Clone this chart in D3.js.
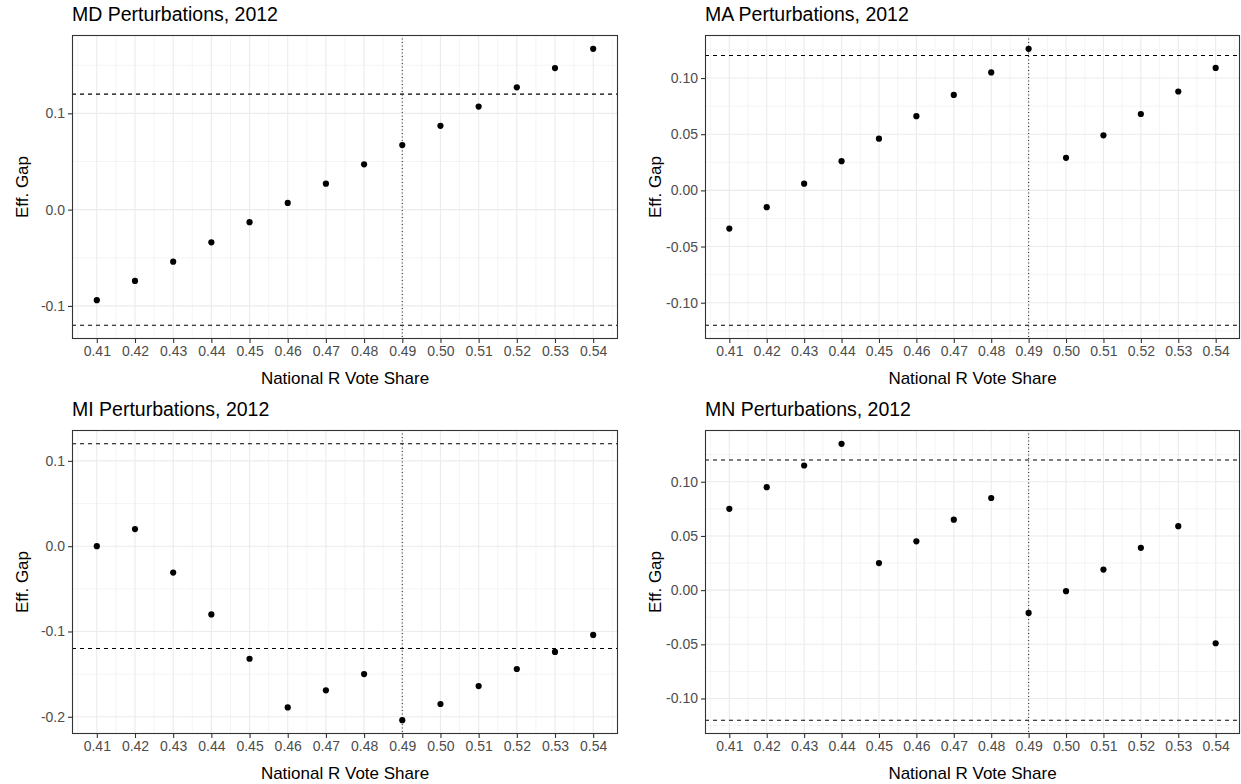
<!DOCTYPE html>
<html>
<head>
<meta charset="utf-8">
<script src="https://cdn.jsdelivr.net/npm/d3@7"></script>
<style>
  html, body { margin: 0; padding: 0; background: #ffffff; }
  svg { display: block; font-family: "Liberation Sans", Arial, sans-serif; }
</style>
</head>
<body>
<svg id="chart" width="1241" height="784"></svg>
<script>
// National Republican vote share scenarios (shared x-axis)
const voteShares = [0.41, 0.42, 0.43, 0.44, 0.45, 0.46, 0.47, 0.48, 0.49, 0.50, 0.51, 0.52, 0.53, 0.54];
const xTickLabels = ["0.41", "0.42", "0.43", "0.44", "0.45", "0.46", "0.47", "0.48", "0.49", "0.50", "0.51", "0.52", "0.53", "0.54"];

// Efficiency gap under each scenario, by state
const mdGap = [-0.094, -0.074, -0.054, -0.034, -0.013, 0.007, 0.027, 0.047, 0.067, 0.087, 0.107, 0.127, 0.147, 0.167];
const maGap = [-0.034, -0.015, 0.006, 0.026, 0.046, 0.066, 0.085, 0.105, 0.126, 0.029, 0.049, 0.068, 0.088, 0.109];
const miGap = [0.000, 0.020, -0.031, -0.080, -0.132, -0.189, -0.169, -0.150, -0.204, -0.185, -0.164, -0.144, -0.124, -0.104];
const mnGap = [0.075, 0.095, 0.115, 0.135, 0.025, 0.045, 0.065, 0.085, -0.021, -0.001, 0.019, 0.039, 0.059, -0.049];

const panelTitles = ["MD Perturbations, 2012", "MA Perturbations, 2012", "MI Perturbations, 2012", "MN Perturbations, 2012"];

// y-axis breaks per panel
const mdTicks = [-0.1, 0.0, 0.1];
const maTicks = [-0.10, -0.05, 0.00, 0.05, 0.10];
const miTicks = [-0.2, -0.1, 0.0, 0.1];
const mnTicks = [-0.10, -0.05, 0.00, 0.05, 0.10];
const mdTickLabels = ["-0.1", "0.0", "0.1"];
const maTickLabels = ["-0.10", "-0.05", "0.00", "0.05", "0.10"];
const miTickLabels = ["-0.2", "-0.1", "0.0", "0.1"];
const mnTickLabels = ["-0.10", "-0.05", "0.00", "0.05", "0.10"];

// reference lines
const gapThresholds = [0.12, -0.12];
const actualShare = [0.49];

const xLabel = "National R Vote Share";
const yLabel = "Eff. Gap";

const panels = [
  { title: panelTitles[0], values: mdGap, ticks: mdTicks, tickLabels: mdTickLabels, box: { x0: 72,  x1: 618,  y0: 35,  y1: 339 } },
  { title: panelTitles[1], values: maGap, ticks: maTicks, tickLabels: maTickLabels, box: { x0: 705, x1: 1240, y0: 35,  y1: 339 } },
  { title: panelTitles[2], values: miGap, ticks: miTicks, tickLabels: miTickLabels, box: { x0: 72,  x1: 618,  y0: 430, y1: 734 } },
  { title: panelTitles[3], values: mnGap, ticks: mnTicks, tickLabels: mnTickLabels, box: { x0: 705, x1: 1240, y0: 430, y1: 734 } }
];

const svg = d3.select("#chart");

// continuous-scale limits padded by 5% of the data range on each side
function expanded(vals) {
  const lo = d3.min(vals), hi = d3.max(vals);
  const pad = (hi - lo) * 0.05;
  return [lo - pad, hi + pad];
}

// minor breaks halfway between majors, extended one step past each end if inside the limits
function minorBreaks(major, domain) {
  const out = [];
  const step = major[1] - major[0];
  const candidates = [major[0] - step / 2];
  for (let i = 0; i < major.length - 1; i++) candidates.push((major[i] + major[i + 1]) / 2);
  candidates.push(major[major.length - 1] + step / 2);
  candidates.forEach(v => { if (v >= domain[0] && v <= domain[1]) out.push(v); });
  return out;
}

const gridColor = "#EBEBEB";
const borderColor = "#333333";
const tickTextColor = "#4D4D4D";

panels.forEach(p => {
  const b = p.box;
  const g = svg.append("g");

  const x = d3.scaleLinear().domain(expanded(voteShares)).range([b.x0, b.x1]);
  const y = d3.scaleLinear().domain(expanded(p.values.concat(gapThresholds))).range([b.y1, b.y0]);

  // grid: minor then major
  const xMinor = minorBreaks(voteShares, x.domain());
  const yMinor = minorBreaks(p.ticks, y.domain());

  g.selectAll(".xminor").data(xMinor).join("line")
    .attr("x1", d => x(d)).attr("x2", d => x(d))
    .attr("y1", b.y0).attr("y2", b.y1)
    .attr("stroke", gridColor).attr("stroke-width", 0.55);
  g.selectAll(".yminor").data(yMinor).join("line")
    .attr("x1", b.x0).attr("x2", b.x1)
    .attr("y1", d => y(d)).attr("y2", d => y(d))
    .attr("stroke", gridColor).attr("stroke-width", 0.55);
  g.selectAll(".xmajor").data(voteShares).join("line")
    .attr("x1", d => x(d)).attr("x2", d => x(d))
    .attr("y1", b.y0).attr("y2", b.y1)
    .attr("stroke", gridColor).attr("stroke-width", 1.1);
  g.selectAll(".ymajor").data(p.ticks).join("line")
    .attr("x1", b.x0).attr("x2", b.x1)
    .attr("y1", d => y(d)).attr("y2", d => y(d))
    .attr("stroke", gridColor).attr("stroke-width", 1.1);

  // efficiency-gap thresholds
  g.selectAll(".hline").data(gapThresholds).join("line")
    .attr("x1", b.x0).attr("x2", b.x1)
    .attr("y1", d => y(d)).attr("y2", d => y(d))
    .attr("stroke", "#000").attr("stroke-width", 1.1)
    .attr("stroke-dasharray", "4,4");

  // actual national share
  g.selectAll(".vline").data(actualShare).join("line")
    .attr("x1", d => x(d)).attr("x2", d => x(d))
    .attr("y1", b.y0).attr("y2", b.y1)
    .attr("stroke", "#333").attr("stroke-width", 1.1)
    .attr("stroke-dasharray", "1,2.5");

  // points
  g.selectAll(".pt").data(voteShares).join("circle")
    .attr("cx", d => x(d))
    .attr("cy", (d, i) => y(p.values[i]))
    .attr("r", 3.1)
    .attr("fill", "#000");

  // panel border
  g.append("rect")
    .attr("x", b.x0 + 0.5).attr("y", b.y0 + 0.5)
    .attr("width", b.x1 - b.x0 - 1).attr("height", b.y1 - b.y0 - 1)
    .attr("fill", "none").attr("stroke", borderColor).attr("stroke-width", 1.1);

  // x axis
  const xAxis = d3.axisBottom(x).tickValues(voteShares)
    .tickFormat((d, i) => xTickLabels[i]).tickSize(4).tickSizeOuter(0).tickPadding(3);
  const xa = g.append("g").attr("transform", `translate(0,${b.y1})`).call(xAxis);
  xa.select(".domain").remove();
  xa.selectAll(".tick line").attr("stroke", borderColor).attr("stroke-width", 1.1);
  xa.selectAll(".tick text").attr("fill", tickTextColor).style("font-size", "14px")
    .style("font-family", "Liberation Sans, Arial, sans-serif");

  // y axis
  const yAxis = d3.axisLeft(y).tickValues(p.ticks)
    .tickFormat((d, i) => p.tickLabels[i]).tickSize(4).tickSizeOuter(0).tickPadding(3);
  const ya = g.append("g").attr("transform", `translate(${b.x0},0)`).call(yAxis);
  ya.select(".domain").remove();
  ya.selectAll(".tick line").attr("stroke", borderColor).attr("stroke-width", 1.1);
  ya.selectAll(".tick text").attr("fill", tickTextColor).style("font-size", "14px")
    .style("font-family", "Liberation Sans, Arial, sans-serif");

  // titles
  g.append("text")
    .attr("x", b.x0).attr("y", b.y0 - 14)
    .attr("fill", "#000").style("font-size", "19.5px")
    .text(p.title);

  g.append("text")
    .attr("x", (b.x0 + b.x1) / 2).attr("y", b.y1 + 45)
    .attr("text-anchor", "middle")
    .attr("fill", "#000").style("font-size", "17px")
    .text(xLabel);

  g.append("text")
    .attr("transform", `translate(${b.x0 - 44},${(b.y0 + b.y1) / 2}) rotate(-90)`)
    .attr("text-anchor", "middle")
    .attr("fill", "#000").style("font-size", "17px")
    .text(yLabel);
});
</script>
</body>
</html>
